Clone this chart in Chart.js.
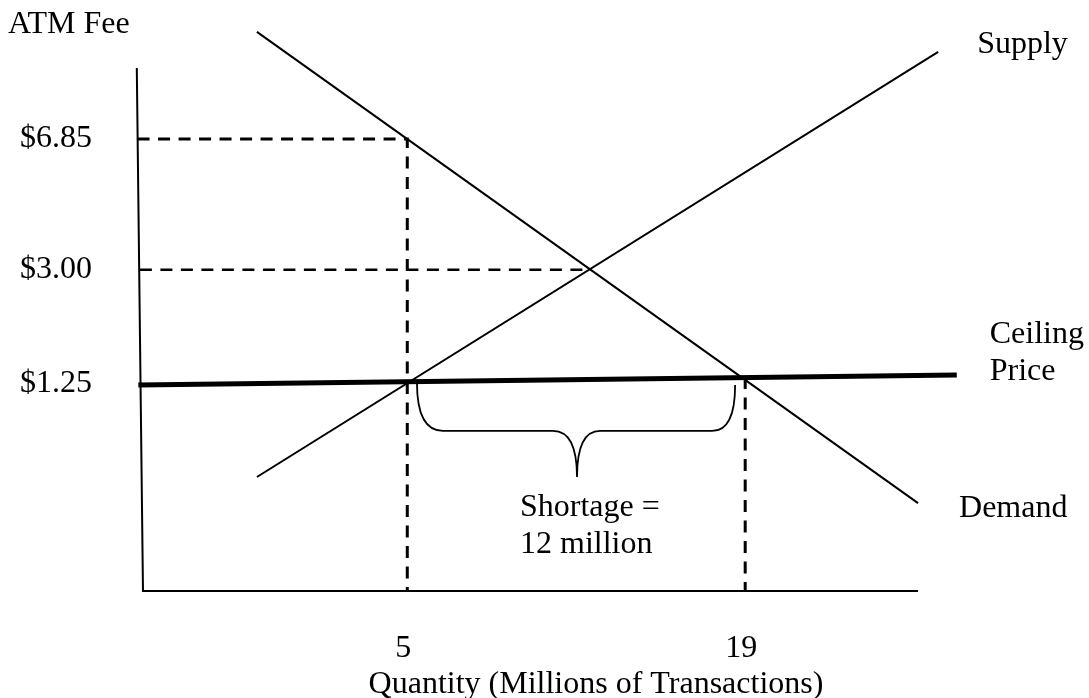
<!DOCTYPE html>
<html>
<head>
<meta charset="utf-8">
<script src="https://cdn.jsdelivr.net/npm/chart.js@4.4.1/dist/chart.umd.min.js"></script>
<style>
  body { margin: 0; background: #fff; }
  #wrap { width: 1089px; height: 698px; }
</style>
</head>
<body>
<div id="wrap"><canvas id="atmChart"></canvas></div>
<script>
// Diagram units: x runs 0-100 along the quantity axis, y runs 0-100 up the fee axis
// (the sketch is not drawn to scale, so the marked values sit where the picture puts them)
const supplyX = [14.7, 102.6];
const supplyY = [21.8, 103.1];
const demandX = [14.7, 100];
const demandY = [106.9, 16.8];
const ceilingX = [-0.6, 105];
const ceilingY = [39.4, 41.3];
const axesX = [-0.8, 0, 100];
const axesY = [100, 0, 0];

// price guide at $6.85 down to Q = 5, price guide at $3.00, and Q = 19 guide
const guideHighX = [-0.7, 34.1, 34.1];
const guideHighY = [86.4, 86.4, 0];
const guideEqX = [-0.4, 57.7];
const guideEqY = [61.4, 61.4];
const guideQ19X = [77.7, 77.7];
const guideQ19Y = [40.9, 0];

// tick labels
const qtyTicks = ['5', '19'];
const qtyTickX = [34.1, 77.7];
const feeTicks = ['$6.85', '$3.00', '$1.25'];
const feeTickY = [86.4, 61.4, 39.5];

// brace under the shortage: left end, tip, right end, flat level
const braceX = [35.35, 56.0, 76.4];
const braceY = [39.8, 21.8, 39.4];
const braceFlatY = 30.6;

const shortageText = ['Shortage =', '12 million'];

function pts(xs, ys) {
    return xs.map((x, i) => ({ x: x, y: ys[i] }));
}

const FONT = '32px "Liberation Serif", "Times New Roman", serif';

// Draws texts and the brace through the chart scales
const labelPlugin = {
    id: 'labels',
    afterDatasetsDraw(chart) {
        const ctx = chart.ctx;
        const xs = chart.scales.x;
        const ys = chart.scales.y;
        const px = v => xs.getPixelForValue(v);
        const py = v => ys.getPixelForValue(v);

        ctx.save();

        // brace
        const lx = px(braceX[0]), tx = px(braceX[1]), rx = px(braceX[2]);
        const fy = py(braceFlatY), ty = py(braceY[1]);
        ctx.beginPath();
        ctx.moveTo(lx, py(braceY[0]));
        ctx.quadraticCurveTo(lx, fy, lx + 26, fy);
        ctx.lineTo(tx - 24, fy);
        ctx.quadraticCurveTo(tx, fy, tx, ty);
        ctx.quadraticCurveTo(tx, fy, tx + 23, fy);
        ctx.lineTo(rx - 23, fy);
        ctx.quadraticCurveTo(rx, fy, rx, py(braceY[2]));
        ctx.lineWidth = 1.8;
        ctx.strokeStyle = '#000';
        ctx.stroke();

        ctx.fillStyle = '#000';
        ctx.font = FONT;
        ctx.textBaseline = 'alphabetic';

        // fee tick labels
        ctx.textAlign = 'right';
        feeTicks.forEach((t, i) => ctx.fillText(t, px(0) - 51, py(feeTickY[i]) + 8));

        // quantity tick labels
        ctx.textAlign = 'center';
        qtyTicks.forEach((t, i) => ctx.fillText(t, px(qtyTickX[i]) - 4, py(0) + 66));

        // axis titles
        ctx.fillText('Quantity (Millions of Transactions)', px(58.45), py(0) + 102);
        ctx.textAlign = 'left';
        ctx.fillText('ATM Fee', 8, 33);

        // curve labels
        ctx.fillText('Supply', px(supplyX[1]) + 39, py(supplyY[1]) + 1);
        ctx.fillText('Demand', px(demandX[1]) + 41, py(demandY[1]) + 14);
        ctx.fillText('Ceiling', px(ceilingX[1]) + 33, py(ceilingY[1]) - 32);
        ctx.fillText('Price', px(ceilingX[1]) + 33, py(ceilingY[1]) + 5);

        // shortage note
        ctx.fillText(shortageText[0], tx - 57, ty + 39);
        ctx.fillText(shortageText[1], tx - 57, ty + 76);

        ctx.restore();
    }
};

function line(data, width, dash) {
    return {
        data: data,
        showLine: true,
        borderColor: '#000',
        borderWidth: width,
        borderDash: dash || [],
        borderCapStyle: 'butt',
        borderJoinStyle: 'miter',
        pointRadius: 0,
        fill: false
    };
}

new Chart(document.getElementById('atmChart'), {
    type: 'scatter',
    data: {
        datasets: [
            line(pts(axesX, axesY), 2),
            line(pts(guideHighX, guideHighY), 3, [12, 8.5]),
            line(pts(guideEqX, guideEqY), 2.5, [12, 8.5]),
            line(pts(guideQ19X, guideQ19Y), 3, [12, 8.5]),
            line(pts(supplyX, supplyY), 2),
            line(pts(demandX, demandY), 2),
            line(pts(ceilingX, ceilingY), 5)
        ]
    },
    options: {
        responsive: true,
        maintainAspectRatio: false,
        animation: false,
        layout: { padding: 0, autoPadding: false },
        plugins: { legend: { display: false }, tooltip: { enabled: false } },
        scales: {
            x: { type: 'linear', display: false, min: -18.45, max: 122.06 },
            y: { type: 'linear', display: false, min: -20.46, max: 113.0 }
        }
    },
    plugins: [labelPlugin]
});
</script>
</body>
</html>
